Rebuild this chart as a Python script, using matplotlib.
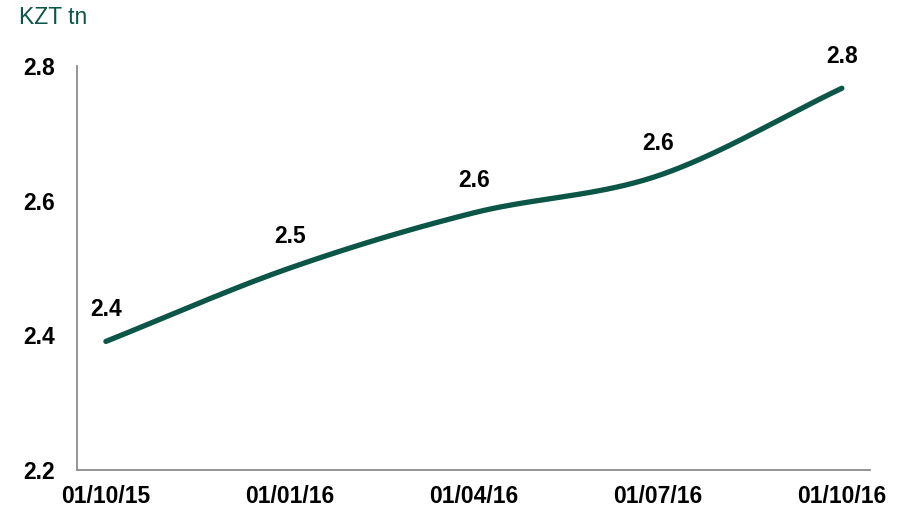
import numpy as np
import matplotlib.pyplot as plt

dates = ['01/10/15', '01/01/16', '01/04/16', '01/07/16', '01/10/16']
values = [2.391, 2.500, 2.582, 2.637, 2.767]
labels = ['2.4', '2.5', '2.6', '2.6', '2.8']
yticks = [2.2, 2.4, 2.6, 2.8]

green = '#0b5646'
plt.rcParams['font.family'] = ['Liberation Sans', 'DejaVu Sans']


def smooth(x, y, n=40):
    # catmull-rom curve through the points, like excel's smoothed line
    x = np.asarray(x, float)
    y = np.asarray(y, float)
    px = np.concatenate([[2 * x[0] - x[1]], x, [2 * x[-1] - x[-2]]])
    py = np.concatenate([[2 * y[0] - y[1]], y, [2 * y[-1] - y[-2]]])
    xs, ys = [], []
    t = np.linspace(0, 1, n)
    for i in range(1, len(px) - 2):
        for p, out in ((px, xs), (py, ys)):
            p0, p1, p2, p3 = p[i - 1], p[i], p[i + 1], p[i + 2]
            out.append(0.5 * ((2 * p1) + (-p0 + p2) * t
                              + (2 * p0 - 5 * p1 + 4 * p2 - p3) * t ** 2
                              + (-p0 + 3 * p1 - 3 * p2 + p3) * t ** 3))
    return np.concatenate(xs), np.concatenate(ys)


fig = plt.figure(figsize=(9.04, 5.13), dpi=100)
ax = fig.add_axes([0.0852, 0.0838, 0.877, 0.7875])

xpos = np.arange(len(dates))
sx, sy = smooth(xpos, values)
ax.plot(sx, sy, color=green, lw=3.8, solid_capstyle='round')

fs = 16.5
for x, v, lab in zip(xpos, values, labels):
    ax.annotate(lab, (x, v), xytext=(0, 23), textcoords='offset points',
                ha='center', va='center', fontsize=fs, fontweight='bold')

ax.set_xlim(-0.157, 4.152)
ax.set_ylim(2.2, 2.8)
ax.set_xticks(xpos)
ax.set_xticklabels(dates, fontsize=fs, fontweight='bold')
ax.set_yticks(yticks)
ax.set_yticklabels([f'{t:.1f}' for t in yticks], fontsize=fs, fontweight='bold')
ax.tick_params(length=0)
ax.tick_params(axis='x', pad=11)
ax.tick_params(axis='y', pad=16)

for s in ['top', 'right']:
    ax.spines[s].set_visible(False)
for s in ['left', 'bottom']:
    ax.spines[s].set_color('#8c8c8c')
    ax.spines[s].set_linewidth(1.3)

fig.text(0.021, 0.966, 'KZT tn', color=green, fontsize=16.5, va='center', ha='left')

fig.savefig('out.png', dpi=100)
